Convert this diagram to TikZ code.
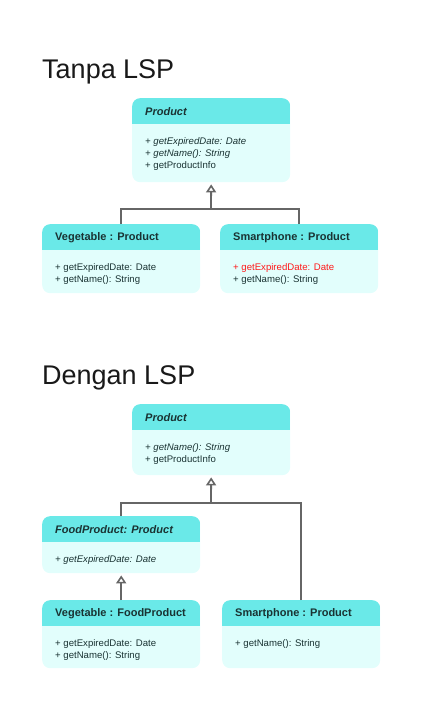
\documentclass[tikz,border=0pt]{standalone}
\usepackage{fontspec}
\setmainfont{Liberation Sans}
\usetikzlibrary{arrows.meta}

\definecolor{headcyan}{HTML}{6AE9E8}
\definecolor{bodycyan}{HTML}{E2FEFC}
\definecolor{textdark}{HTML}{1A3333}
\definecolor{linegray}{HTML}{666666}
\definecolor{errred}{HTML}{FF1A1A}

\begin{document}
\begin{tikzpicture}[x=1pt,y=-1pt,
  classbox/.style={fill=bodycyan,rounded corners=8pt,minimum width=158pt,inner sep=0pt,anchor=north west,
    path picture={\fill[headcyan,sharp corners] (path picture bounding box.north west) rectangle ([yshift=-26pt]path picture bounding box.north east);}},
  classname/.style={anchor=west,inner sep=0pt,font=\fontsize{11}{12}\selectfont\bfseries,text=textdark},
  methods/.style={anchor=north west,inner sep=0pt,align=left,font=\fontsize{9.6}{12}\selectfont,text=textdark},
  title/.style={anchor=base west,inner sep=0pt,font=\fontsize{27}{30}\selectfont,text=black!90},
  inherit/.style={draw=linegray,line width=1.8pt,-{Triangle[open,width=10pt,length=8pt,line width=1.6pt]},shorten >=2pt},
  link/.style={draw=linegray,line width=1.8pt}]

  \useasboundingbox (0,0) rectangle (428,710);

  % Tanpa LSP
  \node[title] (tanpa) at (42,78) {Tanpa LSP};

  \node[classbox,minimum height=84pt] (prod1) at (132,98) {};
  \node[classname] (prod1name) at ([xshift=13pt,yshift=-14pt]prod1.north west) {\itshape Product};
  \node[methods] (prod1ops) at ([xshift=13pt,yshift=-39.5pt]prod1.north west)
    {{\itshape + getExpiredDate: Date}\\{\itshape + getName(): String}\\+ getProductInfo};

  \node[classbox,minimum height=69pt] (veg1) at (42,224) {};
  \node[classname] (veg1name) at ([xshift=13pt,yshift=-14pt]veg1.north west) {Vegetable : Product};
  \node[methods] (veg1ops) at ([xshift=13pt,yshift=-39.5pt]veg1.north west)
    {+ getExpiredDate: Date\\+ getName(): String};

  \node[classbox,minimum height=69pt] (smart1) at (220,224) {};
  \node[classname] (smart1name) at ([xshift=13pt,yshift=-14pt]smart1.north west) {Smartphone : Product};
  \node[methods] (smart1ops) at ([xshift=13pt,yshift=-39.5pt]smart1.north west)
    {{\color{errred}+ getExpiredDate: Date}\\+ getName(): String};

  \coordinate (join1) at (211,209);
  \draw[link] (veg1.north) |- (join1);
  \draw[link] (smart1.north) |- (join1);
  \draw[inherit] (join1) -- (prod1.south);

  % Dengan LSP
  \node[title] (dengan) at (42,384) {Dengan LSP};

  \node[classbox,minimum height=71pt] (prod2) at (132,404) {};
  \node[classname] (prod2name) at ([xshift=13pt,yshift=-14pt]prod2.north west) {\itshape Product};
  \node[methods] (prod2ops) at ([xshift=13pt,yshift=-39.5pt]prod2.north west)
    {{\itshape + getName(): String}\\+ getProductInfo};

  \node[classbox,minimum height=57pt] (food2) at (42,516) {};
  \node[classname] (food2name) at ([xshift=13pt,yshift=-14pt]food2.north west) {\itshape FoodProduct: Product};
  \node[methods] (food2ops) at ([xshift=13pt,yshift=-39.5pt]food2.north west)
    {{\itshape + getExpiredDate: Date}};

  \node[classbox,minimum height=68pt] (veg2) at (42,600) {};
  \node[classname] (veg2name) at ([xshift=13pt,yshift=-14pt]veg2.north west) {Vegetable : FoodProduct};
  \node[methods] (veg2ops) at ([xshift=13pt,yshift=-39.5pt]veg2.north west)
    {+ getExpiredDate: Date\\+ getName(): String};

  \node[classbox,minimum height=68pt] (smart2) at (222,600) {};
  \node[classname] (smart2name) at ([xshift=13pt,yshift=-14pt]smart2.north west) {Smartphone : Product};
  \node[methods] (smart2ops) at ([xshift=13pt,yshift=-39.5pt]smart2.north west)
    {+ getName(): String};

  \coordinate (join2) at (211,503);
  \draw[link] (food2.north) |- (join2);
  \draw[link] (smart2.north) |- (join2);
  \draw[inherit] (join2) -- (prod2.south);
  \draw[inherit] (veg2.north) -- (food2.south);

\end{tikzpicture}
\end{document}
